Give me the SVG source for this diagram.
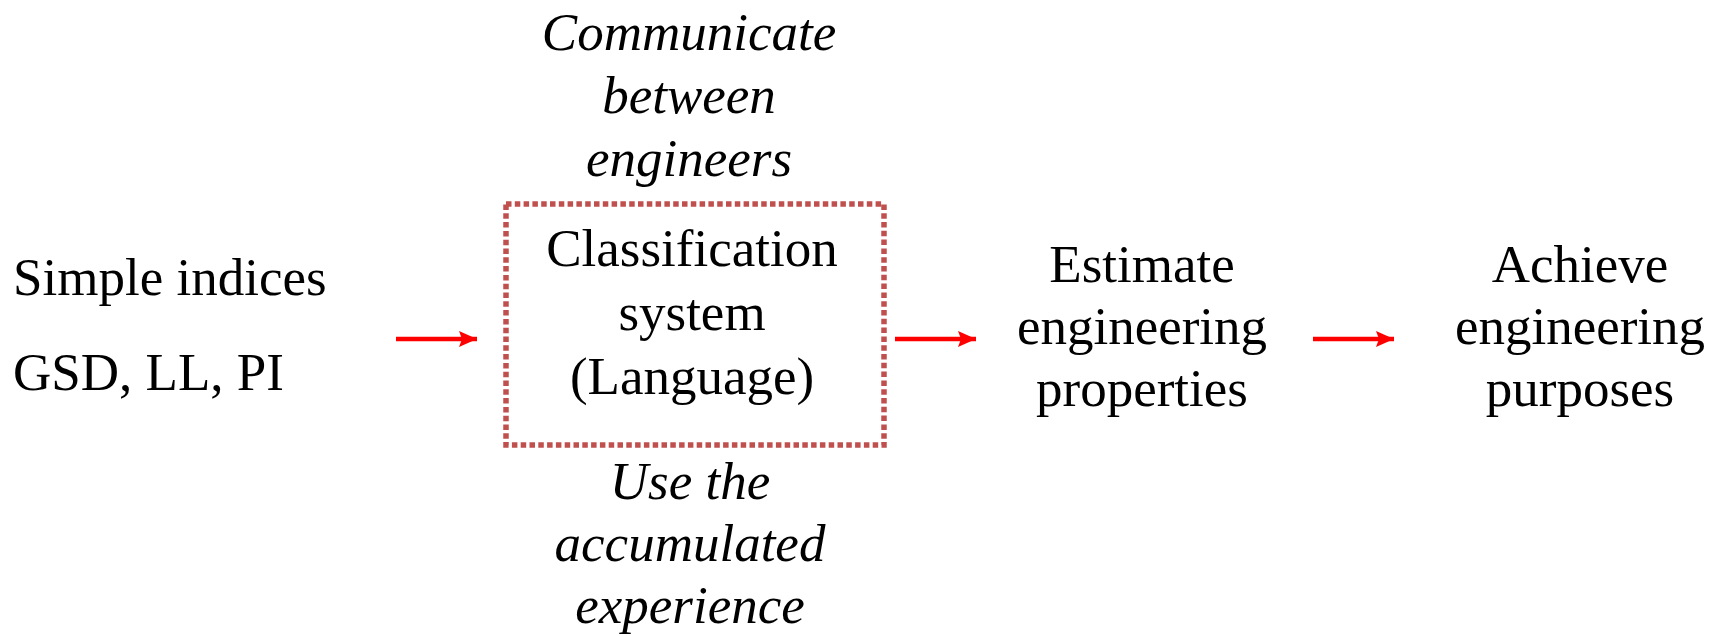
<svg xmlns="http://www.w3.org/2000/svg" width="1723" height="636" viewBox="0 0 1723 636">
<style>
.t{font-family:"Liberation Serif","Times New Roman",serif;font-size:53px;fill:#000}
.c{text-anchor:middle}
.i{font-style:italic}
.arr{stroke:#FF0000;stroke-width:4.5;fill:none;marker-end:url(#ah)}
</style>
<defs>
<marker id="ah" markerUnits="userSpaceOnUse" markerWidth="20" markerHeight="18" refX="18" refY="9" orient="auto">
<path d="M0,1 L18,9 L0,17 L3,9 Z" fill="#FF0000"/>
</marker>
</defs>
<rect width="1723" height="636" fill="#fff"/>
<g id="node-simple">
<text class="t" x="13" y="295">Simple indices</text>
<text class="t" x="13" y="390">GSD, LL, PI</text>
</g>
<g id="node-classification">
<rect x="506" y="204" width="378" height="241" fill="none" stroke="#C0504D" stroke-width="5.5" stroke-dasharray="5.5 3.3"/>
<text class="t c" x="692" y="266">Classification</text>
<text class="t c" x="692" y="330">system</text>
<text class="t c" x="692" y="394">(Language)</text>
</g>
<g id="note-communicate">
<text class="t c i" x="689" y="50">Communicate</text>
<text class="t c i" x="689" y="113">between</text>
<text class="t c i" x="689" y="176">engineers</text>
</g>
<g id="note-use">
<text class="t c i" x="690" y="499">Use the</text>
<text class="t c i" x="690" y="561">accumulated</text>
<text class="t c i" x="690" y="623">experience</text>
</g>
<g id="node-estimate">
<text class="t c" x="1142" y="282">Estimate</text>
<text class="t c" x="1142" y="344">engineering</text>
<text class="t c" x="1142" y="406">properties</text>
</g>
<g id="node-achieve">
<text class="t c" x="1580" y="282">Achieve</text>
<text class="t c" x="1580" y="344">engineering</text>
<text class="t c" x="1580" y="406">purposes</text>
</g>
<g id="connectors">
<line class="arr" x1="396" y1="339" x2="477" y2="339"/>
<line class="arr" x1="895" y1="339" x2="976" y2="339"/>
<line class="arr" x1="1313" y1="339" x2="1394" y2="339"/>
</g>
</svg>
